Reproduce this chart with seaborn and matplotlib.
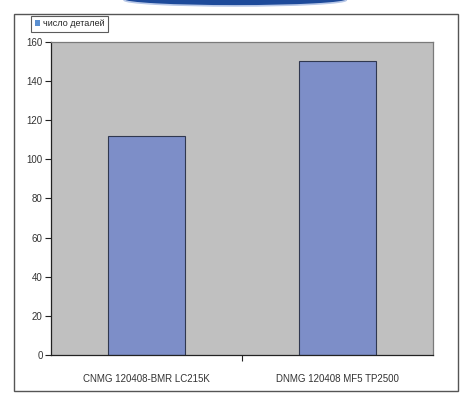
import matplotlib
matplotlib.use("Agg")
import matplotlib.pyplot as plt
import pandas as pd
import seaborn as sns
from matplotlib.patches import Ellipse, Rectangle

# data
categories = ["CNMG 120408-BMR LC215K", "DNMG 120408 MF5 TP2500"]
parts_count = [112, 150]
series_name = "число деталей"
y_ticks = [0, 20, 40, 60, 80, 100, 120, 140, 160]

df = pd.DataFrame({"insert": categories, "count": parts_count})

sns.set_theme(style="white")
plt.rcParams["font.family"] = ["Liberation Sans", "DejaVu Sans"]

fig = plt.figure(figsize=(4.63, 3.96), dpi=100)
fig.patch.set_facecolor("white")

# outer chart frame
fig.patches.append(Rectangle((0.030, 0.0126), 0.959, 0.952, transform=fig.transFigure,
                             fill=False, edgecolor="#555555", linewidth=1.0, zorder=0))
# blue arc decoration at the top edge
fig.patches.append(Ellipse((0.508, 1.0), 0.48, 0.03, transform=fig.transFigure,
                           facecolor="#1d4a9a", edgecolor="#b8c8e8", linewidth=1.2, zorder=1))

ax = fig.add_axes([0.110, 0.1035, 0.825, 0.791])
ax.set_facecolor("#c0c0c0")

sns.barplot(data=df, x="insert", y="count", ax=ax, color="#7d8ec8",
            width=0.4, edgecolor="#303850", linewidth=0.8, saturation=1)

ax.set_ylim(0, 160)
ax.set_xlim(-0.5, 1.5)
ax.set_yticks(y_ticks)
ax.set_xlabel("")
ax.set_ylabel("")
ax.tick_params(axis="y", left=True, length=4, width=0.8, color="#222222",
               labelsize=7, labelcolor="#333333", pad=2)
ax.tick_params(axis="x", bottom=False, labelsize=7, labelcolor="#333333", pad=8)
ax.set_xticks([0.5], minor=True)
ax.tick_params(axis="x", which="minor", bottom=True, length=4, width=0.8, color="#222222")

for side in ["left", "bottom"]:
    ax.spines[side].set_color("#222222")
    ax.spines[side].set_linewidth(0.9)
for side in ["top", "right"]:
    ax.spines[side].set_color("#7a7a7a")
    ax.spines[side].set_linewidth(0.9)

handle = Rectangle((0, 0), 1, 1, facecolor="#5b8fd0", edgecolor="none")
leg = fig.legend([handle], [series_name], loc="upper left",
                 bbox_to_anchor=(0.067, 0.960), fontsize=6.5, frameon=True,
                 fancybox=False, handlelength=0.6, handleheight=0.6,
                 handletextpad=0.3, borderpad=0.4, borderaxespad=0)
leg.get_frame().set_edgecolor("#333333")
leg.get_frame().set_linewidth(0.8)

fig.savefig("out.png", dpi=100, facecolor="white")
